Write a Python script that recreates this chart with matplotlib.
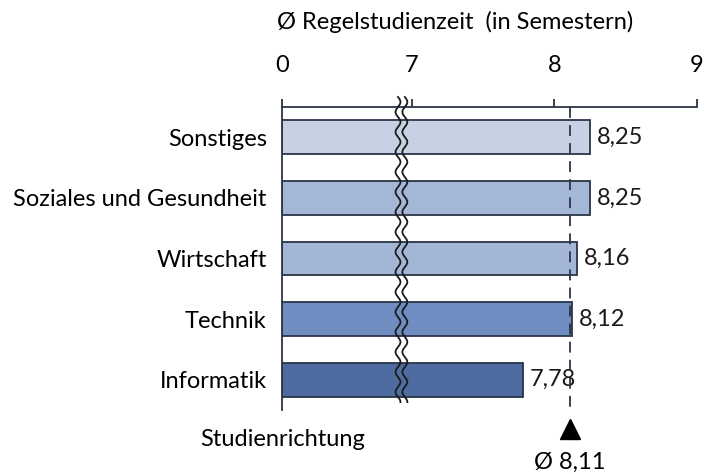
import numpy as np
import matplotlib
matplotlib.use("Agg")
import matplotlib.pyplot as plt

# data
categories = ["Sonstiges", "Soziales und Gesundheit", "Wirtschaft", "Technik", "Informatik"]
values = [8.25, 8.25, 8.16, 8.12, 7.78]
value_labels = ["8,25", "8,25", "8,16", "8,12", "7,78"]
mean_value = 8.11
mean_label = "Ø 8,11"
tick_values = [0, 7, 8, 9]
tick_labels = ["0", "7", "8", "9"]

colors = ["#c6d1e4", "#a5b7d6", "#a4b6d5", "#6f8dc1", "#4f6ca0"]
edge = "#2a3546"
fs = 17

plt.rcParams['font.family'] = ['Lato', 'DejaVu Sans']
plt.rcParams['font.size'] = fs

# broken axis: 0..7 squeezed, then one unit per semester
squeeze = 0.912


def forward(v):
    v = np.asarray(v, dtype=float)
    return np.where(v < 7, v * squeeze / 7, squeeze + (v - 7))


def inverse(u):
    u = np.asarray(u, dtype=float)
    return np.where(u < squeeze, u * 7 / squeeze, u - squeeze + 7)


fig = plt.figure(figsize=(7.04, 4.74), dpi=100)
ax = fig.add_axes([282 / 704, 1 - 410 / 474, 415 / 704, 303 / 474])
ax.set_xscale('function', functions=(forward, inverse))
ax.set_xlim(0, 9)
ax.set_ylim(4.5, -0.5)

y = np.arange(len(categories))
ax.barh(y, values, height=0.56, color=colors, edgecolor=edge, linewidth=1.3, zorder=2)

for yi, v, lab in zip(y, values, value_labels):
    ax.annotate(lab, (v, yi), xytext=(5, 0), textcoords='offset points',
                va='center', ha='left', fontsize=fs, color='#1a1a1a')

# mean line with marker
ax.plot([mean_value, mean_value], [-0.5, 4.53], color=edge, linewidth=1.3,
        dashes=(6, 4), clip_on=False, zorder=3)
ax.plot([mean_value], [4.82], marker='^', color='black', markersize=14,
        clip_on=False, zorder=3)
ax.text(mean_value, 5.36, mean_label, ha='center', va='center', fontsize=fs,
        clip_on=False)

# axes styling
ax.xaxis.tick_top()
ax.set_xticks(tick_values)
ax.set_xticklabels(tick_labels)
ax.tick_params(axis='x', direction='out', length=6, width=1.3, color=edge,
               pad=16, labelsize=fs)
ax.set_yticks(y)
ax.set_yticklabels(categories)
ax.tick_params(axis='y', length=0, pad=11, labelsize=fs)
for s in ['right', 'bottom']:
    ax.spines[s].set_visible(False)
for s in ['top', 'left']:
    ax.spines[s].set_color(edge)
    ax.spines[s].set_linewidth(1.3)

# wavy break marks
yy = np.linspace(0.026, 1.033, 300)
amp = 0.006
wave = amp * np.sin((1.033 - yy) * 303 / 20 * 2 * np.pi)
for x0 in [0.2795, 0.296]:
    ax.plot(x0 + wave, yy, transform=ax.transAxes, color='#1a1a1a',
            linewidth=1.3, clip_on=False, zorder=4)

fig.text(455 / 704, 1 - 22 / 474, "Ø Regelstudienzeit  (in Semestern)",
         ha='center', va='center', fontsize=fs)
fig.text(200 / 704, 1 - 440 / 474, "Studienrichtung", ha='left', va='center',
         fontsize=fs)

fig.savefig("out.png", dpi=100)
